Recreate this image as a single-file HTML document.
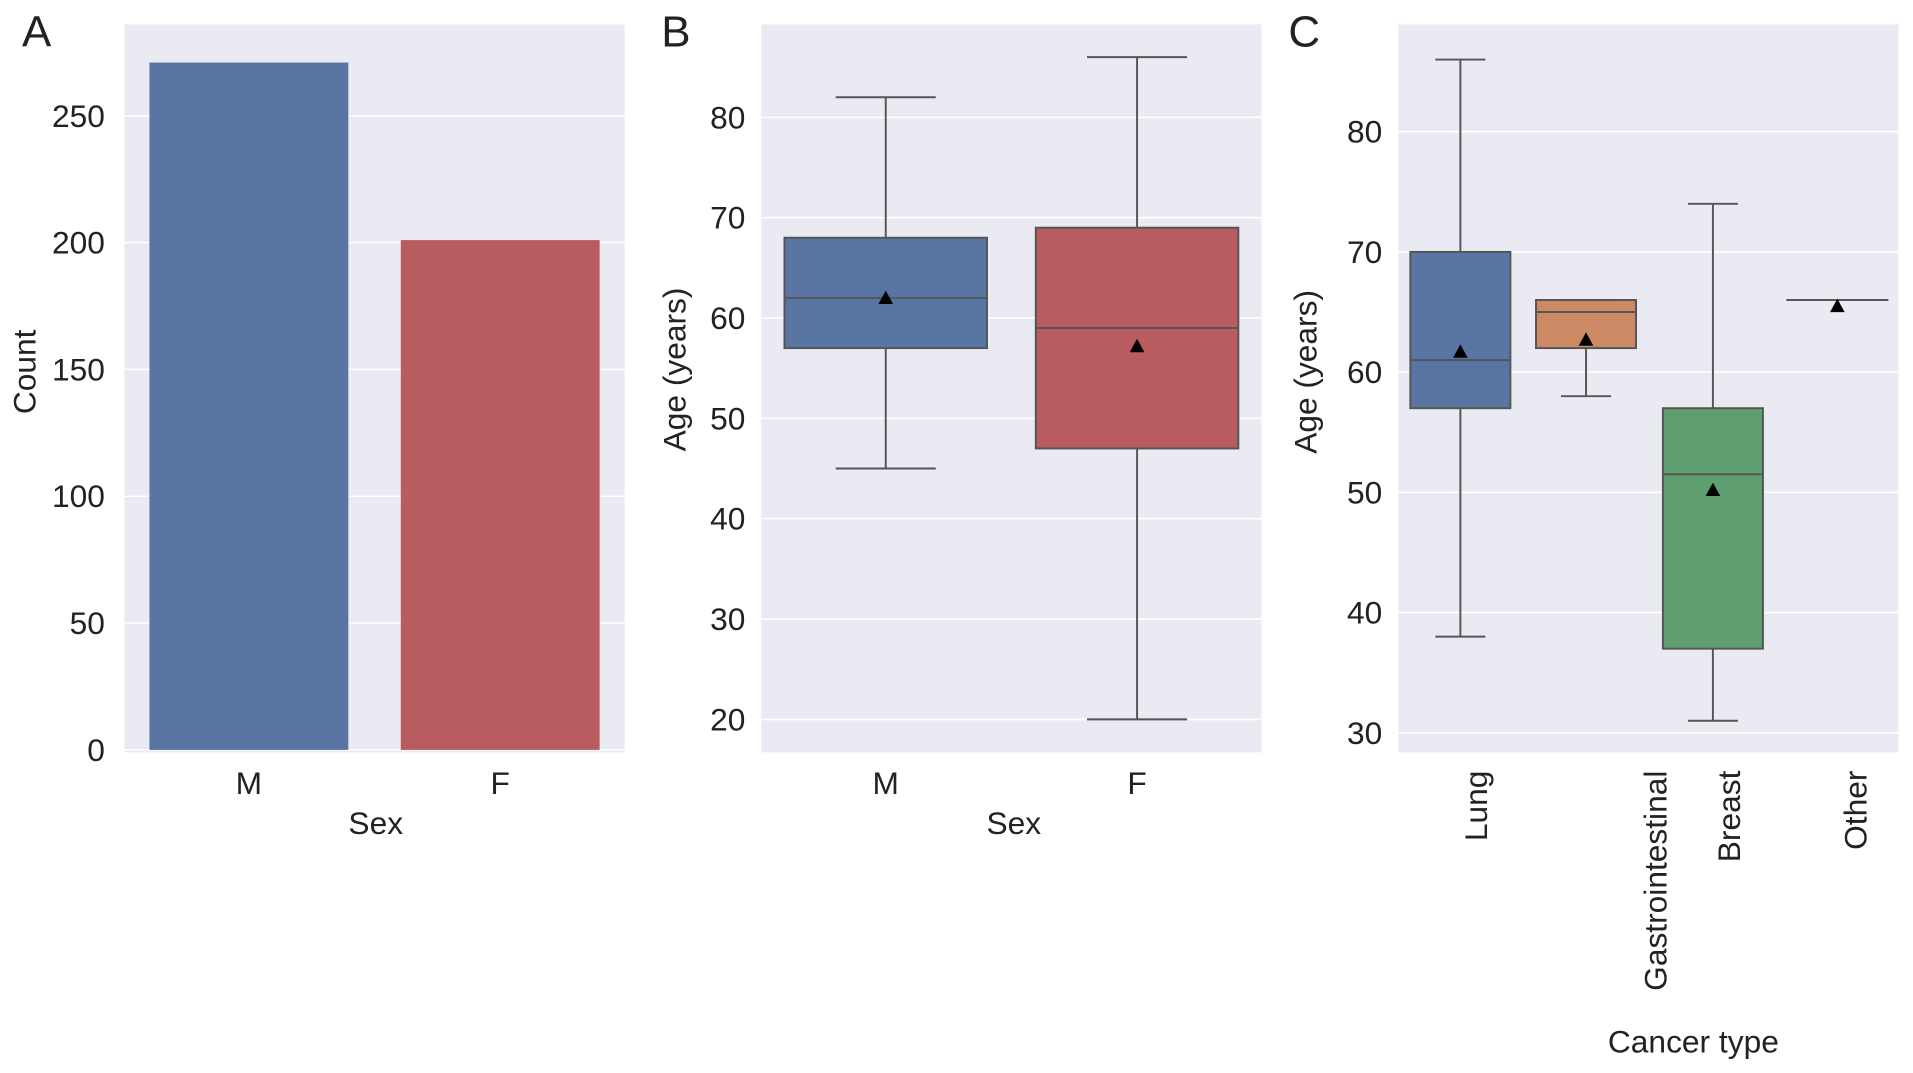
<!DOCTYPE html>
<html><head><meta charset="utf-8"><style>
html,body{margin:0;padding:0;background:#fff;}
svg{display:block;font-family:"Liberation Sans",Arial,sans-serif;}
</style></head><body>
<svg id="fig" width="1913" height="1073" viewBox="0 0 1568 880" preserveAspectRatio="none"></svg>
<script>
// Panel A data
const sexCategories = ["M", "F"];
const sexCounts = [271, 201];
const countTicks = [0, 50, 100, 150, 200, 250];
// Panel B data (Q1, median, Q3, whisker low, whisker high, mean)
const sexAgeQ1 = [57, 47];
const sexAgeMedian = [62, 59];
const sexAgeQ3 = [68, 69];
const sexAgeLow = [45, 20];
const sexAgeHigh = [82, 86];
const sexAgeMean = [62, 57.2];
const ageTicksB = [20, 30, 40, 50, 60, 70, 80];
// Panel C data
const cancerTypes = ["Lung", "Gastrointestinal", "Breast", "Other"];
const cancerQ1 = [57, 62, 37, 66];
const cancerMedian = [61, 65, 51.5, 66];
const cancerQ3 = [70, 66, 57, 66];
const cancerLow = [38, 58, 31, 66];
const cancerHigh = [86, 66, 74, 66];
const cancerMean = [61.7, 62.7, 50.2, 65.5];
const ageTicksC = [30, 40, 50, 60, 70, 80];

const svg = document.getElementById('fig');
const NS = 'http://www.w3.org/2000/svg';
function mk(tag, attrs, parent, text) {
  const e = document.createElementNS(NS, tag);
  for (const k in attrs) e.setAttribute(k, attrs[k]);
  if (text !== undefined) e.textContent = text;
  (parent || svg).appendChild(e);
  return e;
}
const FS = 26;
const boxColorsB = ["#5875a4", "#b85c5f"];
const boxColorsC = ["#5875a4", "#cc8963", "#5f9e6e", "#5875a4"];
const lineCol = "#555";

function panel(x0, x1, y0, y1, name) {
  const g = mk('g', {});
  
  
  const r = mk('rect', {x: x0, y: y0, width: x1 - x0, height: y1 - y0, fill: '#eaeaf2'}, g);
  
  
  return g;
}
function yTicks(g, ticks, yf, x0, x1, labelX, name) {
  ticks.forEach(t => {
    const y = yf(t);
    const l = mk('line', {x1: x0, x2: x1, y1: y, y2: y, stroke: '#fff', 'stroke-width': 1.3}, g);
    
    
    const tx = mk('text', {x: labelX, y: y + 9, 'text-anchor': 'end', 'font-size': FS, fill: '#222'}, g, String(t));
    
    
  });
}
function txt(x, y, s, size, name, rot, anchor) {
  const t = mk('text', {x: x, y: y, 'font-size': size, fill: '#222', 'text-anchor': anchor || 'middle'}, svg, s);
  if (rot) t.setAttribute('transform', 'rotate(' + rot + ' ' + x + ' ' + y + ')');
  
  
  return t;
}
function box(g, cx, w, q1, med, q3, lo, hi, mean, col, yf, capW, name) {
  const wl = mk('line', {x1: cx, x2: cx, y1: yf(hi), y2: yf(lo), stroke: lineCol, 'stroke-width': 1.6}, g);
  
  
  [lo, hi].forEach(v => {
    const c = mk('line', {x1: cx - capW / 2, x2: cx + capW / 2, y1: yf(v), y2: yf(v), stroke: lineCol, 'stroke-width': 1.6}, g);
    
    
  });
  const b = mk('rect', {x: cx - w / 2, y: yf(q3), width: w, height: Math.max(0.01, yf(q1) - yf(q3)), fill: col, stroke: lineCol, 'stroke-width': 1.6}, g);
  
  
  const m = mk('line', {x1: cx - w / 2, x2: cx + w / 2, y1: yf(med), y2: yf(med), stroke: lineCol, 'stroke-width': 1.6}, g);
  
  
  const my = yf(mean);
  const tr = mk('polygon', {points: (cx - 6) + ',' + (my + 5) + ' ' + (cx + 6) + ',' + (my + 5) + ' ' + cx + ',' + (my - 6), fill: '#000'}, g);
  
  
}

// ---- Panel A ----
const yA = v => 615 - v * 2.08;
const gA = panel(102, 512, 20, 617, 'panel-a');
yTicks(gA, countTicks, yA, 102, 512, 86, 'count-axis');
const aCenters = [204, 410], aW = 163;
const barCols = ["#5875a4", "#b85c5f"];
sexCategories.forEach((c, i) => {
  const r = mk('rect', {x: aCenters[i] - aW / 2, y: yA(sexCounts[i]), width: aW, height: yA(0) - yA(sexCounts[i]), fill: barCols[i]}, gA);
  
  
  txt(aCenters[i], 651, c, FS, 'x-tick-label-' + c.toLowerCase());
});
txt(308, 684, 'Sex', FS, 'x-axis-title-a');
txt(29, 305, 'Count', FS, 'y-axis-title-a', -90);
txt(30, 38, 'A', 36, 'panel-label-a');

// ---- Panel B ----
const yB = v => 590 - (v - 20) * 8.23;
const gB = panel(624, 1034, 20, 617, 'panel-b');
yTicks(gB, ageTicksB, yB, 624, 1034, 611, 'age-axis-b');
const bCenters = [726, 932];
sexCategories.forEach((c, i) => {
  box(gB, bCenters[i], 166, sexAgeQ1[i], sexAgeMedian[i], sexAgeQ3[i], sexAgeLow[i], sexAgeHigh[i], sexAgeMean[i], boxColorsB[i], yB, 82, 'box-' + c.toLowerCase());
  txt(bCenters[i], 651, c, FS, 'x-tick-label-b-' + c.toLowerCase());
});
txt(831, 684, 'Sex', FS, 'x-axis-title-b');
txt(562, 303, 'Age (years)', FS, 'y-axis-title-b', -90);
txt(554, 38, 'B', 36, 'panel-label-b');

// ---- Panel C ----
const yC = v => 601 - (v - 30) * 9.86;
const gC = panel(1146, 1556, 20, 617, 'panel-c');
yTicks(gC, ageTicksC, yC, 1146, 1556, 1133, 'age-axis-c');
const cCenters = [1197, 1300, 1404, 1506];
const cLabelX = [1219, 1366, 1426, 1530];
cancerTypes.forEach((c, i) => {
  box(gC, cCenters[i], 82, cancerQ1[i], cancerMedian[i], cancerQ3[i], cancerLow[i], cancerHigh[i], cancerMean[i], boxColorsC[i], yC, 41, 'box-' + c.toLowerCase());
  txt(cLabelX[i], 632, c, FS, 'x-tick-label-' + c.toLowerCase(), -90, 'end');
});
txt(1388, 863, 'Cancer type', FS, 'x-axis-title-c');
txt(1079, 305, 'Age (years)', FS, 'y-axis-title-c', -90);
txt(1069, 38, 'C', 36, 'panel-label-c');
</script>
</body></html>
